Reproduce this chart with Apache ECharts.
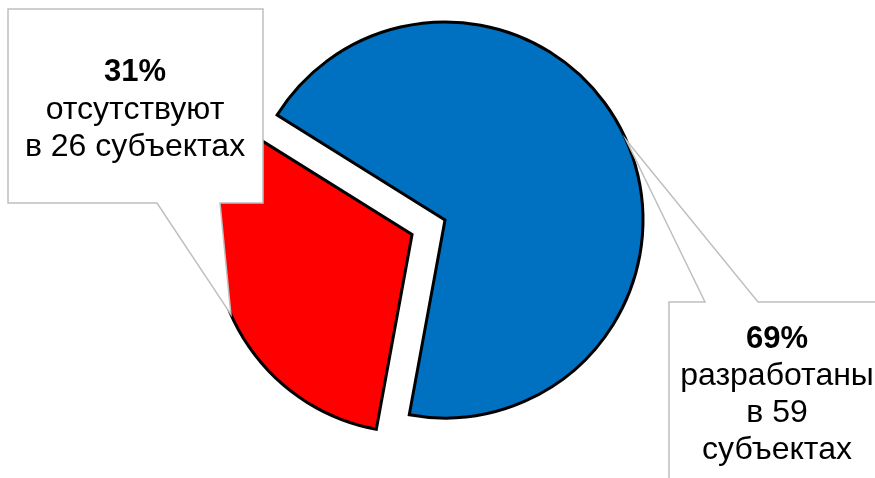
<!DOCTYPE html>
<html><head><meta charset="utf-8">
<script src="https://cdn.jsdelivr.net/npm/echarts@6/dist/echarts.min.js"></script>
<style>html,body{margin:0;padding:0;background:#fff}#c{width:875px;height:478px}</style>
</head><body><div id="c"></div>
<script>
// ---- data ----
const categories = ['разработаны', 'отсутствуют'];
const shares = [69, 31];          // percent of subjects (slice sizes)
const counts = [59, 26];          // number of subjects
const colors = ['#0070C0', '#FF0000'];
const explodedIndex = 1;
const statusText = ['разработаны', 'отсутствуют'];

// ---- layout ----
const CX = 445, CY = 220, R = 198, START = 148, OFFSET = 36;
const total = shares.reduce((a, b) => a + b, 0);

function midPoint(i) {
  let before = 0;
  for (let k = 0; k < i; k++) before += shares[k];
  const midDeg = START - (before + shares[i] / 2) / total * 360;
  const a = midDeg * Math.PI / 180;
  const off = i === explodedIndex ? OFFSET : 0;
  return [CX + Math.cos(a) * (R + off), CY - Math.sin(a) * (R + off)];
}
const tipRed = midPoint(1);
const tipBlue = midPoint(0);

const FONT = '"Liberation Sans", Arial, sans-serif';
function txt(x, y, s, bold) {
  return { type: 'text', x: x, y: y, z: 20,
    style: { text: s, fontFamily: FONT, fontSize: bold ? 31 : 32, fontWeight: bold ? 'bold' : 'normal',
      fill: '#000', align: 'center', verticalAlign: 'middle' } };
}
const boxStyle = { fill: '#fff', stroke: '#BFBFBF', lineWidth: 1.5 };

const chart = echarts.init(document.getElementById('c'), null, { renderer: 'canvas' });
chart.setOption({
  animation: false,
  backgroundColor: '#fff',
  series: [{
    type: 'pie',
    center: [CX, CY],
    radius: R,
    startAngle: START,
    clockwise: true,
    selectedMode: 'single',
    selectedOffset: OFFSET,
    avoidLabelOverlap: false,
    label: { show: false },
    labelLine: { show: false },
    emphasis: { disabled: true },
    itemStyle: { borderColor: '#000', borderWidth: 3, borderJoin: 'miter' },
    data: categories.map((n, i) => ({
      name: n, value: shares[i], selected: i === explodedIndex,
      itemStyle: { color: colors[i] }
    }))
  }],
  graphic: [
    { type: 'polygon', z: 10, shape: { points: [[8, 9], [263, 9], [263, 203], [220, 203], tipRed, [157, 203], [8, 203]] }, style: boxStyle },
    { type: 'polygon', z: 10, shape: { points: [[669, 302], [705, 302], tipBlue, [758, 302], [890, 302], [890, 495], [669, 495]] }, style: boxStyle },
    txt(135, 72, shares[1] + '%', true),
    txt(135, 110, statusText[1], false),
    txt(135, 147, 'в ' + counts[1] + ' субъектах', false),
    txt(777, 339, shares[0] + '%', true),
    txt(777, 376, statusText[0], false),
    txt(777, 413, 'в ' + counts[0], false),
    txt(777, 450, 'субъектах', false)
  ]
});
</script>
</body></html>
